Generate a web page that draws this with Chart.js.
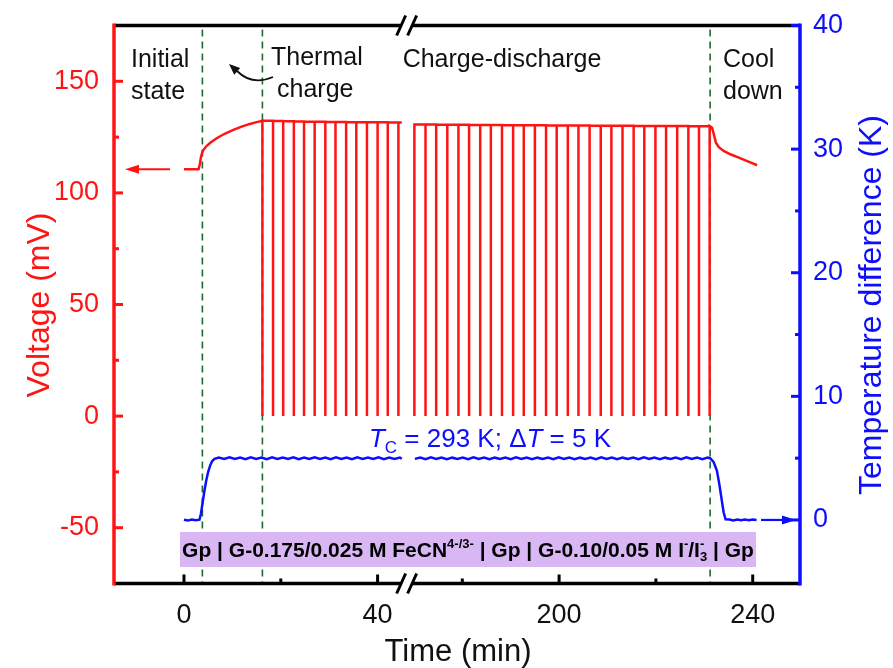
<!DOCTYPE html>
<html><head><meta charset="utf-8">
<script src="https://cdn.jsdelivr.net/npm/chart.js@4.4.1/dist/chart.umd.min.js"></script>
<style>html,body{margin:0;padding:0;background:#fff;}#wrap{width:893px;height:668px;position:relative;}</style>
</head><body><div id="wrap"><canvas id="c"></canvas></div>
<script>
// ---------- data ----------
const xTickValues = [0, 40, 200, 240];
const xMinorTicks = [20, 180, 220];
const yTickValues = [-50, 0, 50, 100, 150];
const yMinorTicks = [-25, 25, 75, 125];
const y2TickValues = [0, 10, 20, 30, 40];
const y2MinorTicks = [5, 15, 25, 35];
const breakStart = 46;      // min, end of first x segment
const breakEnd = 168.5;     // min, start of second x segment
const phaseBoundaries = [3.8, 16.2, 231.2];

const chargeTimes = [0, 1.5, 3.0, 3.3, 3.5, 3.8, 4.0, 4.6, 5.5, 6.75, 8.4, 10.2, 11.9, 13.6, 15.0, 16.2];
const chargeVolts = [110.6, 110.6, 110.6, 113.0, 116.0, 118.3, 119.2, 120.9, 122.6, 124.5, 126.5, 128.2, 129.7, 130.9, 131.7, 132.3];

const spikeTimesLeft = [16.2, 18.4, 20.5, 22.7, 24.8, 27.0, 29.2, 31.3, 33.5, 35.6, 37.8, 40.0, 42.1, 44.3];
const spikePeaksLeft = [132.3, 132.2, 132.1, 132.0, 131.9, 131.9, 131.8, 131.8, 131.7, 131.7, 131.6, 131.6, 131.5, 131.5];
const leftSegmentEnd = 45.0;

const spikeTimesRight = [170.1, 172.4, 174.6, 176.9, 179.2, 181.4, 183.7, 185.9, 188.2, 190.5, 192.7, 195.0, 197.3, 199.5,
  201.8, 204.0, 206.3, 208.6, 210.8, 213.1, 215.4, 217.6, 219.9, 222.1, 224.4, 226.7, 228.9, 231.1];
const spikePeaksRight = [130.6, 130.6, 130.5, 130.5, 130.5, 130.4, 130.4, 130.4, 130.3, 130.3, 130.3, 130.3, 130.2, 130.2,
  130.2, 130.2, 130.1, 130.1, 130.1, 130.1, 130.0, 130.0, 130.0, 130.0, 130.0, 129.9, 129.9, 129.9];

const coolTimes = [231.6, 232.0, 232.4, 233.0, 234.0, 235.5, 237.0, 238.5, 240.0, 240.9];
const coolVolts = [129.2, 126.0, 122.5, 120.5, 118.8, 117.2, 115.9, 114.6, 113.2, 112.4];

const blueLeftTimes = [0, 0.8, 1.6, 2.4, 3.2, 3.5, 3.85, 4.2, 4.6, 5.0, 5.4, 5.8, 6.3, 7.2, 8.3, 9.4, 10.5, 11.6, 12.7, 13.8,
  14.9, 16.0, 17.1, 18.2, 19.3, 20.4, 21.5, 22.6, 23.7, 24.8, 25.9, 27.0, 28.1, 29.2, 30.3, 31.4, 32.5, 33.6, 34.7, 35.8,
  36.9, 38.0, 39.1, 40.2, 41.3, 42.4, 43.5, 44.6, 45.0];
const blueLeftValues = [0.02, -0.05, 0.04, -0.03, 0.02, 0.5, 1.4, 2.3, 3.2, 3.9, 4.4, 4.75, 4.95, 5.05, 4.93, 5.06, 4.94, 5.05, 4.92, 5.06,
  4.93, 5.05, 4.92, 5.06, 4.94, 5.05, 4.93, 5.06, 4.92, 5.05, 4.93, 5.06, 4.94, 5.05, 4.92, 5.06, 4.93, 5.05, 4.92, 5.06,
  4.94, 5.05, 4.93, 5.06, 4.92, 5.05, 4.93, 5.04, 4.95];

const blueRightTimes = [170.2, 171.3, 172.4, 173.5, 174.6, 175.7, 176.8, 177.9, 179.0, 180.1, 181.2, 182.3, 183.4, 184.5,
  185.6, 186.7, 187.8, 188.9, 190.0, 191.1, 192.2, 193.3, 194.4, 195.5, 196.6, 197.7, 198.8, 199.9, 201.0, 202.1, 203.2,
  204.3, 205.4, 206.5, 207.6, 208.7, 209.8, 210.9, 212.0, 213.1, 214.2, 215.3, 216.4, 217.5, 218.6, 219.7, 220.8, 221.9,
  223.0, 224.1, 225.2, 226.3, 227.4, 228.5, 229.6, 230.7, 231.2, 231.9, 232.6, 233.1, 233.6, 234.0, 234.4, 235.2, 236.0,
  236.8, 237.6, 238.4, 239.2, 240.0, 240.8];
const blueRightValues = [4.94, 5.05, 4.92, 5.06, 4.93, 5.05, 4.92, 5.04, 4.94, 5.05, 4.92, 5.06, 4.93, 5.05,
  4.92, 5.04, 4.94, 5.05, 4.92, 5.06, 4.93, 5.05, 4.92, 5.04, 4.94, 5.05, 4.92, 5.06, 4.93, 5.05, 4.92,
  5.04, 4.94, 5.05, 4.92, 5.06, 4.93, 5.05, 4.92, 5.04, 4.94, 5.05, 4.92, 5.06, 4.93, 5.05, 4.92, 5.04,
  4.94, 5.05, 4.92, 5.06, 4.93, 5.05, 4.92, 5.04, 5.0, 4.7, 4.0, 2.9, 1.6, 0.6, 0.05, 0.03, -0.04,
  0.03, -0.03, 0.04, -0.03, 0.03, 0.0];

// ---------- styling ----------
const FONT = "'Liberation Sans', Arial, Helvetica, sans-serif";
const RED = '#ff1414';
const BLUE = '#0d0dff';
const GREEN = '#1d6b30';
const PURPLE = '#d9b7f5';
Chart.defaults.font.family = FONT;

// broken x axis: map real minutes to a continuous axis coordinate
function toAxis(t) { return t <= breakStart ? t : t - (breakEnd - breakStart); }

// ---------- build series ----------
const redPts = [];
chargeTimes.forEach((t, i) => redPts.push({ x: toAxis(t), y: chargeVolts[i] }));
spikeTimesLeft.forEach((t, i) => {
  const next = i < spikeTimesLeft.length - 1 ? spikeTimesLeft[i + 1] : leftSegmentEnd;
  redPts.push({ x: toAxis(t), y: 0 });
  redPts.push({ x: toAxis(t), y: spikePeaksLeft[i] });
  redPts.push({ x: toAxis(next), y: spikePeaksLeft[i] });
});
redPts.push({ x: breakStart, y: null });
spikeTimesRight.forEach((t, i) => {
  redPts.push({ x: toAxis(t), y: 0 });
  redPts.push({ x: toAxis(t), y: spikePeaksRight[i] });
  if (i < spikeTimesRight.length - 1) redPts.push({ x: toAxis(spikeTimesRight[i + 1]), y: spikePeaksRight[i] });
});
coolTimes.forEach((t, i) => redPts.push({ x: toAxis(t), y: coolVolts[i] }));

const bluePts = [];
blueLeftTimes.forEach((t, i) => bluePts.push({ x: toAxis(t), y: blueLeftValues[i] }));
bluePts.push({ x: breakStart, y: null });
blueRightTimes.forEach((t, i) => bluePts.push({ x: toAxis(t), y: blueRightValues[i] }));

// ---------- helpers ----------
function line(ctx, x1, y1, x2, y2) { ctx.beginPath(); ctx.moveTo(x1, y1); ctx.lineTo(x2, y2); ctx.stroke(); }
function fontOf(s) { return `${s.style || 'normal'} ${s.weight || 'normal'} ${s.size}px ${FONT}`; }
function drawRich(ctx, segs, x, y, align) {
  let cur = 0, prevX = 0, prevW = 0;
  segs.forEach(s => { ctx.font = fontOf(s); s.w = ctx.measureText(s.t).width; });
  segs.forEach(s => {
    if (s.stack) { s.x = prevX; cur += Math.max(0, s.w - prevW); }
    else { s.x = cur; prevX = cur; prevW = s.w; cur += s.w; }
  });
  const start = align === 'center' ? x - cur / 2 : x;
  ctx.textAlign = 'left'; ctx.textBaseline = 'alphabetic';
  segs.forEach(s => { ctx.font = fontOf(s); ctx.fillText(s.t, start + s.x, y + (s.dy || 0)); });
}
function arrowHead(ctx, tipX, tipY, fromX, fromY, len, half) {
  const a = Math.atan2(tipY - fromY, tipX - fromX);
  ctx.beginPath();
  ctx.moveTo(tipX, tipY);
  ctx.lineTo(tipX - len * Math.cos(a) + half * Math.sin(a), tipY - len * Math.sin(a) - half * Math.cos(a));
  ctx.lineTo(tipX - len * Math.cos(a) - half * Math.sin(a), tipY - len * Math.sin(a) + half * Math.cos(a));
  ctx.closePath(); ctx.fill();
}

const deco = {
  id: 'deco',
  beforeDatasetsDraw(chart) {
    const { ctx, chartArea: a, scales } = chart;
    ctx.save();
    // phase boundaries
    ctx.strokeStyle = GREEN; ctx.lineWidth = 1.6; ctx.setLineDash([7, 5]);
    phaseBoundaries.forEach(t => { const px = scales.x.getPixelForValue(toAxis(t)); line(ctx, px, a.top + 4, px, a.bottom); });
    ctx.setLineDash([]);
    // electrolyte box
    ctx.fillStyle = PURPLE; ctx.fillRect(180, 532, 576, 35);
    ctx.fillStyle = '#000';
    const B = 21, S = 13;
    drawRich(ctx, [
      { t: 'Gp | G-0.175/0.025 M FeCN', size: B, weight: 'bold' },
      { t: '4-/3-', size: S, weight: 'bold', dy: -9 },
      { t: ' | Gp | G-0.10/0.05 M I', size: B, weight: 'bold' },
      { t: '-', size: S, weight: 'bold', dy: -9 },
      { t: '/I', size: B, weight: 'bold' },
      { t: '3', size: S, weight: 'bold', dy: 4 },
      { t: '-', size: S, weight: 'bold', dy: -9, stack: true },
      { t: ' | Gp', size: B, weight: 'bold' }
    ], 468, 557, 'center');
    ctx.restore();
  },
  afterDatasetsDraw(chart) {
    const { ctx, chartArea: a, scales } = chart;
    const xs = scales.x, ys = scales.y, y2s = scales.y2;
    ctx.save();
    ctx.lineCap = 'butt';
    // frame with break
    const bx = xs.getPixelForValue(breakStart);
    ctx.strokeStyle = '#000'; ctx.lineWidth = 3.5;
    [a.top, a.bottom].forEach(yy => {
      line(ctx, a.left, yy, bx - 5.5, yy);
      line(ctx, bx + 5.5, yy, a.right, yy);
      ctx.lineWidth = 3;
      [-5.5, 5.5].forEach(d => line(ctx, bx + d - 4.5, yy + 10, bx + d + 4.5, yy - 10));
      ctx.lineWidth = 3.5;
    });
    ctx.strokeStyle = RED; line(ctx, a.left, a.top - 2, a.left, a.bottom + 2);
    ctx.strokeStyle = BLUE; line(ctx, a.right, a.top - 2, a.right, a.bottom + 2);
    // inward ticks
    ctx.lineWidth = 3;
    ctx.strokeStyle = RED;
    yTickValues.forEach(v => { const p = ys.getPixelForValue(v); line(ctx, a.left, p, a.left + 9, p); });
    yMinorTicks.forEach(v => { const p = ys.getPixelForValue(v); line(ctx, a.left, p, a.left + 5, p); });
    ctx.strokeStyle = BLUE;
    y2TickValues.forEach(v => { const p = y2s.getPixelForValue(v); line(ctx, a.right, p, a.right - 9, p); });
    y2MinorTicks.forEach(v => { const p = y2s.getPixelForValue(v); line(ctx, a.right, p, a.right - 5, p); });
    ctx.strokeStyle = '#000';
    xTickValues.forEach(v => { const p = xs.getPixelForValue(toAxis(v)); line(ctx, p, a.bottom, p, a.bottom - 9); });
    xMinorTicks.forEach(v => { const p = xs.getPixelForValue(toAxis(v)); line(ctx, p, a.bottom, p, a.bottom - 5); });

    // red arrow to left axis
    const ry = ys.getPixelForValue(chargeVolts[0]);
    ctx.strokeStyle = RED; ctx.fillStyle = RED; ctx.lineWidth = 2.2;
    line(ctx, 137, ry, 170, ry);
    arrowHead(ctx, 125, ry, 170, ry, 14, 4.5);
    // blue arrow to right axis
    const by = y2s.getPixelForValue(blueRightValues[blueRightValues.length - 1]);
    ctx.strokeStyle = BLUE; ctx.fillStyle = BLUE;
    line(ctx, 761, by, 783, by);
    arrowHead(ctx, 796, by, 761, by, 14, 4.5);
    // curved black arrow
    ctx.strokeStyle = '#111'; ctx.fillStyle = '#111'; ctx.lineWidth = 1.8;
    ctx.beginPath(); ctx.moveTo(273, 77); ctx.quadraticCurveTo(252, 86, 237, 71); ctx.stroke();
    arrowHead(ctx, 229, 64, 238, 72, 11, 4.5);

    // phase labels
    ctx.fillStyle = '#111'; ctx.font = `25px ${FONT}`; ctx.textBaseline = 'alphabetic';
    ctx.textAlign = 'left';
    ctx.fillText('Initial', 131, 67); ctx.fillText('state', 131, 99);
    ctx.fillText('Thermal', 271, 65); ctx.fillText('charge', 277, 97);
    ctx.fillText('Cool', 723, 67); ctx.fillText('down', 723, 99);
    ctx.textAlign = 'center';
    ctx.fillText('Charge-discharge', 502, 67);

    // condition label
    ctx.fillStyle = BLUE;
    drawRich(ctx, [
      { t: 'T', size: 26, style: 'italic' },
      { t: 'C', size: 17, dy: 6 },
      { t: ' = 293 K; \u0394', size: 26 },
      { t: 'T', size: 26, style: 'italic' },
      { t: ' = 5 K', size: 26 }
    ], 490, 447, 'center');

    // axis titles
    ctx.textAlign = 'center'; ctx.textBaseline = 'middle'; ctx.font = `32px ${FONT}`;
    ctx.fillStyle = RED;
    ctx.save(); ctx.translate(40, 305); ctx.rotate(-Math.PI / 2); ctx.fillText('Voltage (mV)', 0, 0); ctx.restore();
    ctx.fillStyle = BLUE;
    ctx.save(); ctx.translate(872, 305); ctx.rotate(-Math.PI / 2); ctx.fillText('Temperature difference (K)', 0, 0); ctx.restore();
    ctx.fillStyle = '#111'; ctx.textBaseline = 'alphabetic'; ctx.font = `31px ${FONT}`;
    ctx.fillText('Time (min)', 458, 661);
    ctx.restore();
  }
};

new Chart(document.getElementById('c'), {
  type: 'line',
  data: {
    datasets: [
      { label: 'Voltage', data: redPts, yAxisID: 'y', borderColor: RED, backgroundColor: RED, borderWidth: 2.5, pointRadius: 0, tension: 0, spanGaps: false },
      { label: 'Temperature difference', data: bluePts, yAxisID: 'y2', borderColor: BLUE, backgroundColor: BLUE, borderWidth: 2.5, pointRadius: 0, tension: 0, spanGaps: false }
    ]
  },
  options: {
    responsive: true, maintainAspectRatio: false, animation: false, devicePixelRatio: 1,
    layout: { padding: { top: 25.5, left: 0, right: 0, bottom: 0 } },
    plugins: { legend: { display: false }, tooltip: { enabled: false } },
    scales: {
      x: {
        type: 'linear', min: -14.46, max: 127.27,
        grid: { display: false }, border: { display: false },
        afterBuildTicks: s => { s.ticks = xTickValues.map(v => ({ value: toAxis(v) })); },
        afterFit: s => { s.height = 84.5; },
        ticks: { callback: (v, i) => String(xTickValues[i]), color: '#111', font: { size: 27 }, padding: 8, maxRotation: 0, autoSkip: false }
      },
      y: {
        position: 'left', min: -75, max: 175,
        grid: { display: false }, border: { display: false },
        afterBuildTicks: s => { s.ticks = yTickValues.map(v => ({ value: v })); },
        afterFit: s => { s.width = 114; },
        ticks: { callback: v => String(v), color: RED, font: { size: 27 }, padding: 7 }
      },
      y2: {
        position: 'right', min: -5.14, max: 40,
        grid: { display: false }, border: { display: false },
        afterBuildTicks: s => { s.ticks = y2TickValues.map(v => ({ value: v })); },
        afterFit: s => { s.width = 93; },
        ticks: { callback: v => String(v), color: BLUE, font: { size: 27 }, padding: 5 }
      }
    }
  },
  plugins: [deco]
});
</script></body></html>
